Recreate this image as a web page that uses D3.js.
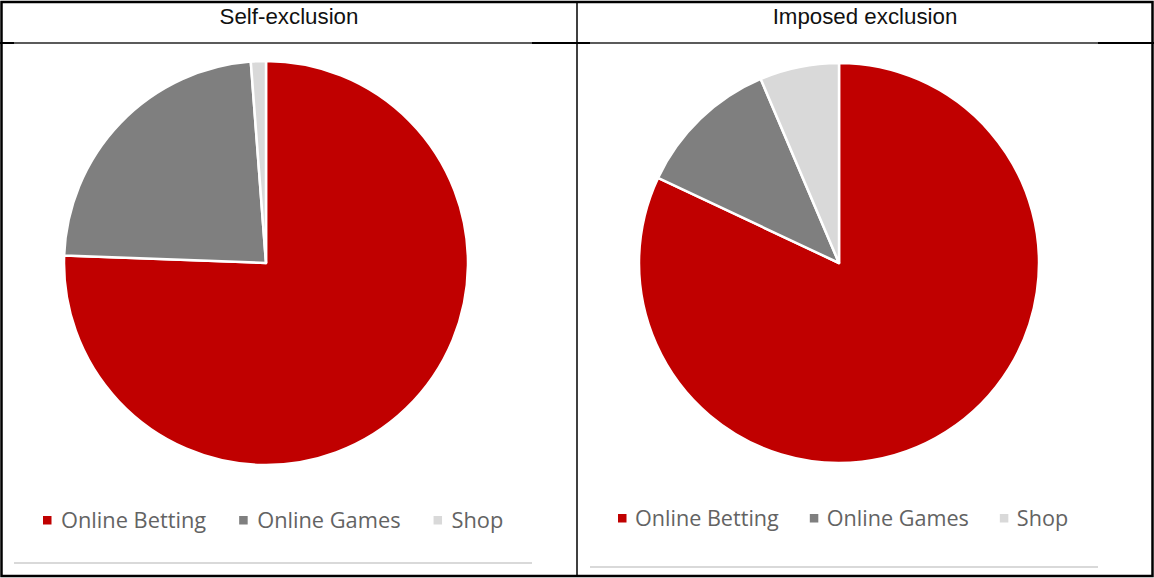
<!DOCTYPE html>
<html>
<head>
<meta charset="utf-8">
<script src="https://cdn.jsdelivr.net/npm/d3@7"></script>
<style>
  html, body { margin: 0; padding: 0; background: #fff; }
  svg { display: block; }
</style>
</head>
<body>
<svg id="chart" width="1154" height="578"></svg>
<script>
// Channel share of exclusions, by exclusion type (percent)
const categories = ["Online Betting", "Online Games", "Shop"];
const panelTitles = ["Self-exclusion", "Imposed exclusion"];
const selfExclusion = [75.6, 23.2, 1.2];
const imposedExclusion = [82.0, 11.6, 6.4];
const colors = ["#C00000", "#7F7F7F", "#D9D9D9"];

const svg = d3.select("#chart");
const W = 1154, H = 578;

svg.append("rect").attr("width", W).attr("height", H).attr("fill", "#fff");

// Table grid
const colX = d3.scaleOrdinal().domain(panelTitles).range([1, 577]);
const colW = 576;
const headerY = 43;

// Panel layout: chart frame, pie centre and legend position per column
const panels = [
  { title: panelTitles[0], values: selfExclusion, frame: [14, 532], frameBottom: 563,
    cx: 266, cy: 263, r: 202, legendX: 43, legendY: 528, textGap: 18, itemGap: 33, fs: 21.8 },
  { title: panelTitles[1], values: imposedExclusion, frame: [590, 1098], frameBottom: 567,
    cx: 839, cy: 263, r: 200, legendX: 618, legendY: 526, textGap: 17, itemGap: 31, fs: 21.6 }
];

const pie = d3.pie().sort(null).value(d => d);
const color = d3.scaleOrdinal().domain(categories).range(colors);

panels.forEach(p => {
  const g = svg.append("g");
  const arc = d3.arc().innerRadius(0).outerRadius(p.r);
  g.append("g")
    .attr("transform", `translate(${p.cx},${p.cy})`)
    .selectAll("path")
    .data(pie(p.values))
    .join("path")
    .attr("d", arc)
    .attr("fill", (d, i) => color(categories[i]))
    .attr("stroke", "#fff")
    .attr("stroke-width", 2.5)
    .attr("stroke-linejoin", "round");

  // Legend
  const lg = g.append("g").attr("transform", `translate(${p.legendX},${p.legendY})`);
  let x = 0;
  categories.forEach((c, i) => {
    lg.append("rect")
      .attr("x", x).attr("y", -12)
      .attr("width", 8.5).attr("height", 8.5)
      .attr("fill", color(c));
    const t = lg.append("text")
      .attr("x", x + p.textGap).attr("y", 0)
      .attr("font-family", "'Open Sans', sans-serif")
      .attr("font-size", p.fs)
      .attr("fill", "#636363")
      .text(c);
    x += p.textGap + t.node().getComputedTextLength() + p.itemGap;
  });

  // Bottom rule of chart frame
  g.append("line")
    .attr("x1", p.frame[0]).attr("x2", p.frame[1])
    .attr("y1", p.frameBottom).attr("y2", p.frameBottom)
    .attr("stroke", "#D9D9D9").attr("stroke-width", 2);

  // Column header
  svg.append("text")
    .attr("x", colX(p.title) + colW / 2)
    .attr("y", 24)
    .attr("text-anchor", "middle")
    .attr("font-family", "'Liberation Sans', Arial, sans-serif")
    .attr("font-size", 22.3)
    .attr("fill", "#111")
    .text(p.title);
});

// Header separator: black table rule, with the chart frames' grey top edge over it
svg.append("line")
  .attr("x1", 0).attr("x2", W).attr("y1", headerY).attr("y2", headerY)
  .attr("stroke", "#000").attr("stroke-width", 2);
panels.forEach(p => {
  svg.append("line")
    .attr("x1", p.frame[0]).attr("x2", p.frame[1])
    .attr("y1", headerY).attr("y2", headerY)
    .attr("stroke", "#7a7a7a").attr("stroke-width", 1.5);
});

// Outer border and column divider
svg.append("rect")
  .attr("x", 1.5).attr("y", 2).attr("width", W - 3).attr("height", H - 4)
  .attr("fill", "none").attr("stroke", "#000").attr("stroke-width", 2.5);
svg.append("line")
  .attr("x1", 577).attr("x2", 577).attr("y1", 2).attr("y2", H - 2)
  .attr("stroke", "#000").attr("stroke-width", 1.5);
</script>
</body>
</html>
